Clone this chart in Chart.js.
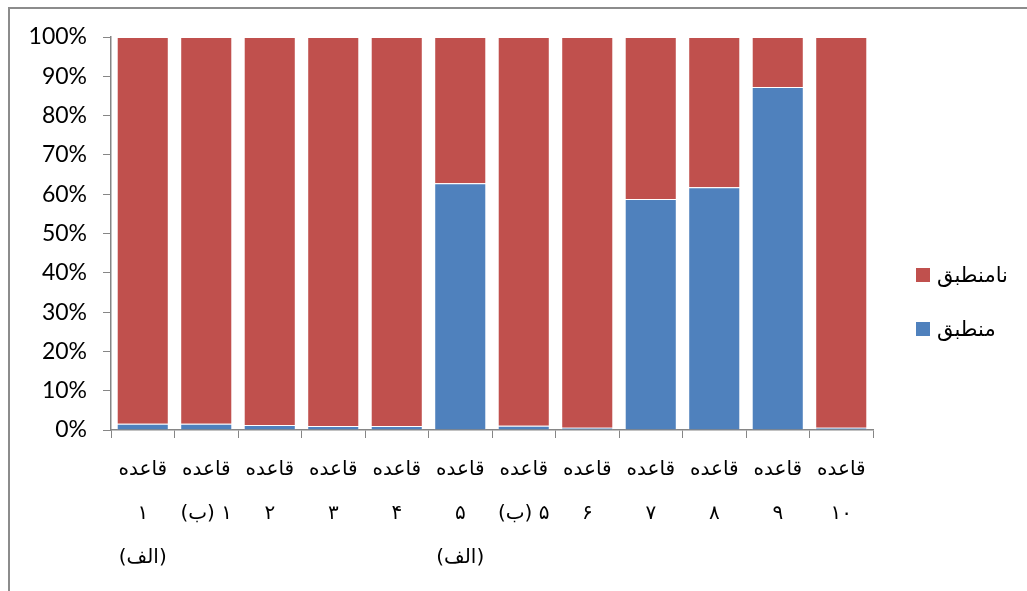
<!DOCTYPE html>
<html>
<head>
<meta charset="utf-8">
<title>قاعده - منطبق / نامنطبق</title>
<script src="https://cdn.jsdelivr.net/npm/chart.js@4.4.2/dist/chart.umd.min.js"></script>
<style>
html, body {
    margin: 0;
    padding: 0;
    width: 1027px;
    height: 591px;
    overflow: hidden;
    background: #fff;
}
#frame {
    position: absolute;
    left: 8px;
    top: 7px;
    width: 1100px;
    height: 700px;
    border: 2px solid #8c8c8c;
}
#wrap {
    position: absolute;
    left: 0;
    top: 0;
    width: 1027px;
    height: 591px;
}
#legend {
    position: absolute;
    left: 916px;
    top: 260px;
    font-family: "DejaVu Sans", sans-serif;
    font-size: 21px;
    color: #000;
}
.item {
    display: flex;
    align-items: center;
    height: 30px;
    margin-bottom: 24px;
}
.swatch {
    width: 14px;
    height: 14px;
    margin-right: 7px;
}
</style>
</head>
<body>
<div id="frame"></div>
<div id="wrap">
    <canvas id="chart" width="1027" height="591"></canvas>
</div>
<div id="legend"></div>
<script>
// categories (multi-line tick labels)
const categories = [
    ["قاعده", "۱", "(الف)"],
    ["قاعده", "۱ (ب)"],
    ["قاعده", "۲"],
    ["قاعده", "۳"],
    ["قاعده", "۴"],
    ["قاعده", "۵", "(الف)"],
    ["قاعده", "۵ (ب)"],
    ["قاعده", "۶"],
    ["قاعده", "۷"],
    ["قاعده", "۸"],
    ["قاعده", "۹"],
    ["قاعده", "۱۰"]
];

// percentages
const matching = [1.6, 1.6, 1.3, 1.0, 1.0, 62.8, 1.1, 0.6, 58.8, 61.8, 87.3, 0.6];
const nonMatching = [98.4, 98.4, 98.7, 99.0, 99.0, 37.2, 98.9, 99.4, 41.2, 38.2, 12.7, 99.4];

const seriesNames = ["منطبق", "نامنطبق"];
const seriesColors = ["#4F81BD", "#C0504D"];

const yTicks = [0, 10, 20, 30, 40, 50, 60, 70, 80, 90, 100];

// canvas text is Persian, so draw it right-to-left
const rtlText = {
    id: "rtlText",
    beforeDraw: (chart) => {
        chart.ctx.direction = "rtl";
    }
};

const ctx = document.getElementById("chart").getContext("2d");
const chart = new Chart(ctx, {
    type: "bar",
    data: {
        labels: categories,
        datasets: [
            {
                label: seriesNames[0],
                data: matching,
                backgroundColor: seriesColors[0],
                borderColor: "rgba(255,255,255,0.35)",
                borderWidth: 1
            },
            {
                label: seriesNames[1],
                data: nonMatching,
                backgroundColor: seriesColors[1],
                borderColor: "rgba(255,255,255,0.35)",
                borderWidth: 1
            }
        ]
    },
    options: {
        responsive: false,
        animation: false,
        devicePixelRatio: 1,
        layout: {
            padding: { top: 37, right: 154, bottom: 0, left: 0 }
        },
        datasets: {
            bar: {
                categoryPercentage: 1,
                barPercentage: 0.82
            }
        },
        plugins: {
            legend: { display: false },
            tooltip: { enabled: false }
        },
        scales: {
            x: {
                stacked: true,
                grid: {
                    offset: true,
                    drawOnChartArea: false,
                    tickLength: 8,
                    tickColor: "#868686"
                },
                border: { color: "#868686", width: 1.5 },
                ticks: {
                    color: "#000",
                    padding: 10,
                    maxRotation: 0,
                    autoSkip: false,
                    font: { family: "DejaVu Sans", size: 20, lineHeight: 2.2 }
                },
                afterFit: (scale) => { scale.height = 161; }
            },
            y: {
                stacked: true,
                min: 0,
                max: 100,
                afterBuildTicks: (scale) => {
                    scale.ticks = yTicks.map(v => ({ value: v }));
                },
                grid: {
                    drawOnChartArea: false,
                    tickLength: 8,
                    tickColor: "#868686"
                },
                border: { color: "#868686", width: 1.5 },
                ticks: {
                    color: "#000",
                    padding: 16,
                    font: { family: "Lato", size: 23 },
                    callback: (v) => v + "%"
                },
                afterFit: (scale) => { scale.width = 111; }
            }
        }
    },
    plugins: [rtlText]
});

// legend: top entry is the upper stack
const legend = document.getElementById("legend");
[1, 0].forEach(i => {
    const item = document.createElement("div");
    item.className = "item";
    item.innerHTML = '<div class="swatch" style="background:' + seriesColors[i] + '"></div><span>' + seriesNames[i] + '</span>';
    legend.appendChild(item);
});
</script>
</body>
</html>
